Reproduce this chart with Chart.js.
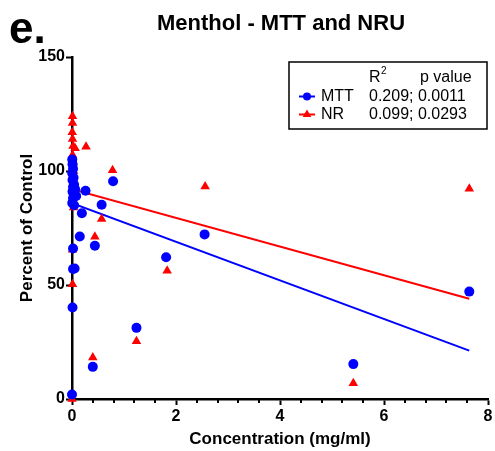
<!DOCTYPE html>
<html>
<head>
<meta charset="utf-8">
<script src="https://cdn.jsdelivr.net/npm/chart.js@4/dist/chart.umd.min.js"></script>
<style>
html,body{margin:0;padding:0;background:#fff;}
#wrap{width:495px;height:451px;position:relative;}
</style>
</head>
<body>
<div id="wrap"><canvas id="c" width="495" height="451"></canvas></div>
<script>
// ---- data ----
const mttX = [0.005,0.01,0.02,0.005,0.03,0.01,0.04,0.02,0.06,0.01,0.03,0.08,0.02,0.005,0.04,
              0.26,0.19,0.57,0.79,0.15,0.44,0.02,0.05,0.02,0.01,0.0,0.40,1.24,1.81,2.55,5.41,7.64];
const mttY = [105,103,101,99,97,96,94,93,92,91,90,89,88,86,85,
              91.3,81.5,85.2,95.5,71.3,67.2,66.0,57.2,57.0,40.1,2.0,14.1,31.2,62.2,72.2,15.3,47.1];
const nrX  = [0.01,0.01,0.005,0.01,0.02,0.06,0.01,0.02,0.03,0.01,0.04,0.02,0.05,0.01,0.03,0.01,0.01,0.0,
              0.27,0.78,0.57,0.44,0.40,1.24,1.83,2.56,5.41,7.64];
const nrY  = [124,121,117,114,111,110,107,104,100,97,94,91,89,86,84,65.5,50.3,0,
              110.6,100.3,79.0,71.2,18.2,25.3,56.2,93.2,6.9,92.2];
const fitX   = [0, 7.64];
const mttFit = [85.9, 21.2];
const nrFit  = [92.0, 44.0];
const xTicks = [0, 2, 4, 6, 8];
const yTicks = [0, 50, 100, 150];
const legendHeader = ["R", "2", "p value"];
const legendRows = [["MTT", "0.209; 0.0011"], ["NR", "0.099; 0.0293"]];
const chartTitle = "Menthol - MTT and NRU";
const panelLabel = "e.";

const FONT = "'Liberation Sans', Arial, Helvetica, sans-serif";
const BLUE = "#0000ff", RED = "#ff0000";

const toPts = (xs, ys) => xs.map((x, i) => ({x: x, y: ys[i]}));

function drawMarker(ctx, style, x, y, r, color) {
  ctx.save();
  ctx.fillStyle = color;
  ctx.beginPath();
  if (style === 'circle') {
    ctx.arc(x, y, r, 0, Math.PI * 2);
  } else {
    ctx.moveTo(x, y - r);
    ctx.lineTo(x + r * 0.87, y + r * 0.5);
    ctx.lineTo(x - r * 0.87, y + r * 0.5);
    ctx.closePath();
  }
  ctx.fill();
  ctx.restore();
}

const decorPlugin = {
  id: 'decor',
  afterDraw(chart) {
    const ctx = chart.ctx;
    const xs = chart.scales.x;
    ctx.save();
    // minor ticks on x axis
    ctx.strokeStyle = '#000';
    ctx.lineWidth = 2;
    const bottom = chart.chartArea.bottom;
    for (let v = 0; v <= 8.0001; v += 0.4) {
      if (Math.abs(v / 2 - Math.round(v / 2)) < 1e-6) continue;
      const px = Math.round(xs.getPixelForValue(v)) ;
      ctx.beginPath();
      ctx.moveTo(px, bottom);
      ctx.lineTo(px, bottom + 4);
      ctx.stroke();
    }
    // panel label and title
    ctx.fillStyle = '#000';
    ctx.textBaseline = 'alphabetic';
    ctx.textAlign = 'left';
    ctx.font = "bold 44px " + FONT;
    ctx.fillText(panelLabel, 9, 42.5);
    ctx.textAlign = 'center';
    ctx.font = "bold 22px " + FONT;
    ctx.fillText(chartTitle, 281, 29.5);

    // legend box
    const bx = 289, by = 62, bw = 198, bh = 67;
    ctx.lineWidth = 1.5;
    ctx.strokeStyle = '#000';
    ctx.strokeRect(bx, by, bw, bh);
    ctx.textAlign = 'left';
    ctx.font = "16px " + FONT;
    ctx.fillText(legendHeader[0], 369, 82);
    const rw = ctx.measureText(legendHeader[0]).width;
    ctx.font = "10px " + FONT;
    ctx.fillText(legendHeader[1], 369 + rw + 0.5, 74);
    ctx.font = "16px " + FONT;
    ctx.fillText(legendHeader[2], 420, 82);
    const rowsY = [96.5, 114.5];
    const colors = [BLUE, RED];
    const styles = ['circle', 'triangle'];
    legendRows.forEach((row, i) => {
      const y = rowsY[i];
      ctx.strokeStyle = colors[i];
      ctx.lineWidth = 2;
      ctx.beginPath();
      ctx.moveTo(299, y);
      ctx.lineTo(315, y);
      ctx.stroke();
      drawMarker(ctx, styles[i], 307, y, styles[i] === 'circle' ? 4 : 5, colors[i]);
      ctx.fillStyle = '#000';
      ctx.textBaseline = 'middle';
      ctx.fillText(row[0], 321, y + 0.5);
      ctx.fillText(row[1], 369, y + 0.5);
    });
    ctx.restore();
  }
};

new Chart(document.getElementById('c'), {
  type: 'scatter',
  data: {
    datasets: [
      {
        label: 'MTT', data: toPts(mttX, mttY),
        pointStyle: 'circle', pointRadius: 5, pointHoverRadius: 5,
        backgroundColor: BLUE, borderColor: BLUE, borderWidth: 0, clip: false
      },
      {
        label: 'NR', data: toPts(nrX, nrY),
        pointStyle: 'triangle', pointRadius: 5.5, pointHoverRadius: 5.5,
        backgroundColor: RED, borderColor: RED, borderWidth: 0, clip: false
      },
      {
        label: 'MTT fit', data: toPts(fitX, mttFit), showLine: true,
        pointRadius: 0, borderColor: BLUE, borderWidth: 2, backgroundColor: BLUE
      },
      {
        label: 'NR fit', data: toPts(fitX, nrFit), showLine: true,
        pointRadius: 0, borderColor: RED, borderWidth: 2, backgroundColor: RED
      }
    ]
  },
  options: {
    responsive: false,
    animation: false,
    events: [],
    layout: { autoPadding: false, padding: { top: 57, right: 7, bottom: 0, left: 0 } },
    plugins: { legend: { display: false }, title: { display: false }, tooltip: { enabled: false } },
    scales: {
      x: {
        type: 'linear', min: 0, max: 8,
        afterFit(s) { s.height = 52; },
        afterBuildTicks(s) { s.ticks = xTicks.map(v => ({value: v})); },
        border: { display: true, color: '#000', width: 2.5 },
        grid: { drawOnChartArea: false, drawTicks: true, tickLength: 6, tickWidth: 2, tickColor: '#000' },
        ticks: { color: '#000', padding: 2, maxRotation: 0, font: { family: FONT, size: 16, weight: 'bold' } },
        title: { display: true, text: 'Concentration (mg/ml)', color: '#000', padding: { top: 0, bottom: 1 },
                 font: { family: FONT, size: 17, weight: 'bold' } }
      },
      y: {
        type: 'linear', min: 0, max: 150,
        afterFit(s) { s.width = 72; },
        afterBuildTicks(s) { s.ticks = yTicks.map(v => ({value: v})); },
        border: { display: true, color: '#000', width: 2.5 },
        grid: { drawOnChartArea: false, drawTicks: true, tickLength: 6, tickWidth: 2, tickColor: '#000' },
        ticks: { color: '#000', padding: 1, font: { family: FONT, size: 16, weight: 'bold' } },
        title: { display: true, text: 'Percent of Control', color: '#000', padding: { top: 17, bottom: 0 },
                 font: { family: FONT, size: 17, weight: 'bold' } }
      }
    }
  },
  plugins: [decorPlugin]
});
</script>
</body>
</html>
